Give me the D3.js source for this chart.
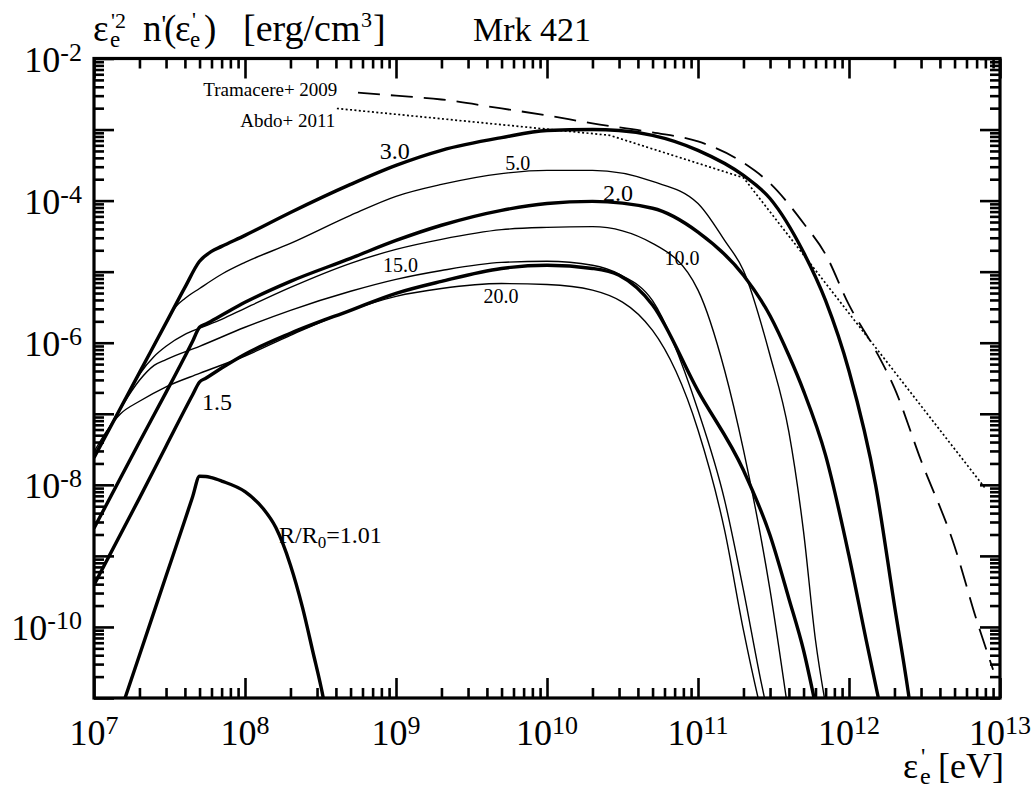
<!DOCTYPE html>
<html>
<head>
<meta charset="utf-8">
<script src="https://cdn.jsdelivr.net/npm/d3@7"></script>
<style>
  html, body { margin: 0; padding: 0; background: #fff; }
  svg { display: block; }
  text { font-family: "Liberation Serif", "Times New Roman", serif; fill: #000; }
</style>
</head>
<body>
<svg id="chart" width="1033" height="788"></svg>
<script>
// Electron energy spectra of Mrk 421 for successive blob radii R/R0,
// with the Tramacere+ 2009 and Abdo+ 2011 fits. Pairs are [energy eV, value erg/cm^3].

const xTickExponents = [7, 8, 9, 10, 11, 12, 13];
const yTickExponents = [-2, -4, -6, -8, -10];

const spec101 = [
  [1.55e7, 8e-12], [2e7, 4.0e-11], [3e7, 5.2e-10], [4e7, 3.2e-9], [4.5e7, 6.8e-9],
  [5e7, 1.32e-8], [5.5e7, 1.31e-8], [6e7, 1.26e-8], [7e7, 1.13e-8], [1e8, 8.0e-9],
  [1.3e8, 4.8e-9], [1.6e8, 2.5e-9], [2e8, 7.4e-10], [2.4e8, 1.9e-10], [2.8e8, 4.7e-11],
  [3.3e8, 1e-11], [3.6e8, 3.5e-12]
];
const spec15 = [
  [1e7, 3.9e-10], [2e7, 6.5e-9], [3e7, 3.5e-8], [4.5e7, 1.85e-7], [5e7, 2.8e-7],
  [5.5e7, 3.16e-7], [7e7, 4.4e-7], [1e8, 6.9e-7], [2e8, 1.36e-6], [5e8, 2.86e-6],
  [1e9, 4.95e-6], [2e9, 7.3e-6], [5e9, 1.11e-5], [1e10, 1.23e-5], [2e10, 1.11e-5],
  [3e10, 8.9e-6], [5e10, 3.4e-6], [1e11, 2.1e-7], [2e11, 1.6e-8], [3e11, 1.95e-9],
  [4e11, 2.5e-10], [5e11, 4.7e-11], [6e11, 8e-12]
];
const spec20 = [
  [1e7, 2.45e-9], [2e7, 4.0e-8], [3e7, 2.0e-7], [4.5e7, 1.05e-6], [5e7, 1.65e-6],
  [5.5e7, 1.83e-6], [7e7, 2.43e-6], [1e8, 3.7e-6], [2e8, 7.3e-6], [5e8, 1.54e-5],
  [1e9, 2.75e-5], [2e9, 4.5e-5], [5e9, 7.3e-5], [1e10, 9.1e-5], [2e10, 9.75e-5],
  [5e10, 7.8e-5], [1e11, 3.6e-5], [2e11, 8.9e-6], [3e11, 2.4e-6], [4e11, 6.6e-7],
  [5e11, 2.1e-7], [7e11, 2.6e-8], [1e12, 1.0e-9], [1.3e12, 6.5e-11], [1.6e12, 8e-12]
];
const spec30 = [
  [1e7, 2.4e-8], [2e7, 3.8e-7], [3e7, 1.9e-6], [4e7, 6.0e-6], [5e7, 1.4e-5],
  [6e7, 1.93e-5], [7e7, 2.27e-5], [1e8, 3.24e-5], [2e8, 6.8e-5], [5e8, 1.69e-4],
  [1e9, 3.13e-4], [2e9, 5.1e-4], [5e9, 7.7e-4], [1e10, 9.7e-4], [2e10, 1.0e-3],
  [3e10, 9.7e-4], [5e10, 8.3e-4], [1e11, 5.1e-4], [2e11, 2.26e-4], [3e11, 1.07e-4],
  [5e11, 1.87e-5], [7e11, 3.9e-6], [1e12, 4e-7], [1.5e12, 1.0e-8], [2e12, 2e-10],
  [2.5e12, 1e-11], [2.7e12, 3e-12]
];
const spec50 = [
  [1e7, 2.4e-8], [2e7, 3.8e-7], [3e7, 1.9e-6], [3.5e7, 3.25e-6], [4e7, 4.2e-6],
  [5e7, 5.8e-6], [7e7, 9.2e-6], [1e8, 1.35e-5], [2e8, 2.5e-5], [5e8, 6.2e-5],
  [1e9, 1.15e-4], [2e9, 1.69e-4], [5e9, 2.4e-4], [1e10, 2.66e-4], [2e10, 2.66e-4],
  [5e10, 1.86e-4], [1e11, 9.1e-5], [1.5e11, 2.75e-5], [2e11, 1.04e-5], [3e11, 6.6e-7],
  [4e11, 5.5e-8], [5e11, 2.2e-9], [6e11, 6.5e-11], [7e11, 8e-12]
];
const spec100 = [
  [1e7, 2.52e-8], [1.5e7, 1.23e-7], [2e7, 3.6e-7], [2.5e7, 6.4e-7], [3e7, 8.9e-7],
  [4e7, 1.31e-6], [5e7, 1.6e-6], [7e7, 2.13e-6], [1e8, 3.05e-6], [2e8, 6.0e-6],
  [5e8, 1.31e-5], [1e9, 2.06e-5], [2e9, 2.85e-5], [5e9, 3.9e-5], [1e10, 4.2e-5],
  [2e10, 4.3e-5], [5e10, 2.5e-5], [1e11, 5.5e-6], [1.5e11, 4.1e-7], [2e11, 3.1e-8],
  [3e11, 3.3e-10], [3.9e11, 8e-12]
];
const spec150 = [
  [1e7, 2.6e-8], [1.5e7, 1.19e-7], [2e7, 2.96e-7], [2.5e7, 4.8e-7], [3e7, 5.8e-7],
  [5e7, 8.9e-7], [1e8, 1.65e-6], [2e8, 2.86e-6], [5e8, 5.3e-6], [1e9, 7.8e-6],
  [2e9, 1.04e-5], [5e9, 1.35e-5], [1e10, 1.4e-5], [2e10, 1.23e-5], [3e10, 9.2e-6],
  [5e10, 3.9e-6], [1e11, 1.12e-7], [1.5e11, 6.1e-9], [2e11, 3.3e-10], [2.6e11, 1.8e-11],
  [2.9e11, 6e-12]
];
const spec200 = [
  [1e7, 2.9e-8], [1.2e7, 5.5e-8], [1.5e7, 1.0e-7], [2e7, 1.5e-7], [3e7, 2.4e-7],
  [5e7, 3.7e-7], [1e8, 6.5e-7], [2e8, 1.27e-6], [5e8, 2.86e-6], [1e9, 4.5e-6],
  [2e9, 5.8e-6], [5e9, 6.8e-6], [1e10, 6.6e-6], [2e10, 5.5e-6], [5e10, 1.49e-6],
  [1e11, 5.9e-8], [1.5e11, 2.3e-9], [2e11, 9e-11], [2.5e11, 1e-11], [2.7e11, 5e-12]
];
const tramacere2009 = [
  [5.6e8, 3.3e-3], [1e9, 3.0e-3], [2e9, 2.65e-3], [5e9, 1.98e-3], [1e10, 1.58e-3],
  [2e10, 1.22e-3], [5e10, 9.1e-4], [1e11, 6.8e-4], [2e11, 3.4e-4], [3e11, 1.75e-4],
  [5e11, 4.8e-5], [7e11, 1.75e-5], [1e12, 3.4e-6], [1.5e12, 7.8e-7], [2e12, 2.3e-7],
  [3e12, 2.2e-8], [5e12, 1.37e-9], [7e12, 1.25e-10], [9e12, 2.5e-11]
];
const abdo2011 = [
  [4.06e8, 1.98e-3], [2.6e10, 8.3e-4], [2.0e11, 2.1e-4], [7.9e12, 9.2e-9]
];

// [name, points, thick]
const spectra = [
  ["1.01", spec101, true], ["1.5", spec15, true], ["2.0", spec20, true], ["3.0", spec30, true],
  ["5.0", spec50, false], ["10.0", spec100, false], ["15.0", spec150, false], ["20.0", spec200, false]
];

// Curve labels: [text, energy, value at baseline-left, thick]
const curveLabels = [
  ["3.0", 7.8e8, 3.8e-4, true], ["5.0", 5.3e9, 2.66e-4, false], ["2.0", 2.35e10, 1.0e-4, true],
  ["10.0", 6.0e10, 1.23e-5, false], ["15.0", 8.2e8, 9.8e-6, false], ["20.0", 3.8e9, 3.6e-6, false],
  ["1.5", 5.2e7, 1.12e-7, true]
];
const ratioLabelPos = [1.68e8, 1.5e-9];
const fitLabels = [["Tramacere+ 2009", 5.3e7, 3.0e-3], ["Abdo+ 2011", 9.3e7, 1.07e-3]];

const svg = d3.select("#chart");
const plotLeft = 94, plotRight = 1000, plotTop = 58.5, plotBottom = 698;

const x = d3.scaleLog().domain([1e7, 1e13]).range([plotLeft, plotRight]);
const y = d3.scaleLog().domain([1e-11, 1e-2]).range([plotBottom, plotTop]);

svg.append("defs").append("clipPath").attr("id", "plotClip")
  .append("rect").attr("x", plotLeft).attr("y", plotTop)
  .attr("width", plotRight - plotLeft).attr("height", plotBottom - plotTop);

// ticks on all four sides, pointing inward
function minorTicks(lo, hi) {
  const out = [];
  for (let e = lo; e < hi; e++) for (let k = 2; k <= 9; k++) out.push(k * Math.pow(10, e));
  return out;
}
const xMajor = d3.range(7, 14).map(e => Math.pow(10, e));
const xMinor = minorTicks(7, 13);
const yMajor = d3.range(-11, -1).map(e => Math.pow(10, e));
const yMinor = minorTicks(-11, -2);

function drawAxis(axisFn, scale, values, len, transform) {
  const g = svg.append("g").attr("transform", transform)
    .call(axisFn(scale).tickValues(values).tickSize(-len).tickFormat(""));
  g.select(".domain").remove();
  g.selectAll(".tick line").attr("stroke", "#000").attr("stroke-width", 2.6);
}
drawAxis(d3.axisBottom, x, xMajor, 20, `translate(0,${plotBottom})`);
drawAxis(d3.axisBottom, x, xMinor, 10, `translate(0,${plotBottom})`);
drawAxis(d3.axisTop, x, xMajor, 20, `translate(0,${plotTop})`);
drawAxis(d3.axisTop, x, xMinor, 10, `translate(0,${plotTop})`);
drawAxis(d3.axisLeft, y, yMajor, 20, `translate(${plotLeft},0)`);
drawAxis(d3.axisLeft, y, yMinor, 10, `translate(${plotLeft},0)`);
drawAxis(d3.axisRight, y, yMajor, 20, `translate(${plotRight},0)`);
drawAxis(d3.axisRight, y, yMinor, 10, `translate(${plotRight},0)`);

svg.append("rect").attr("x", plotLeft).attr("y", plotTop)
  .attr("width", plotRight - plotLeft).attr("height", plotBottom - plotTop)
  .attr("fill", "none").attr("stroke", "#000").attr("stroke-width", 3.2);

// tick labels
xTickExponents.forEach(e => {
  const t = svg.append("text").attr("x", x(Math.pow(10, e))).attr("y", plotBottom + 47)
    .attr("text-anchor", "middle").attr("font-size", 36);
  t.append("tspan").text("10");
  t.append("tspan").attr("font-size", 26).attr("dy", -11).text(e);
});
yTickExponents.forEach(e => {
  const t = svg.append("text").attr("x", plotLeft - 12).attr("y", y(Math.pow(10, e)) + 13)
    .attr("text-anchor", "end").attr("font-size", 36);
  t.append("tspan").text("10");
  t.append("tspan").attr("font-size", 26).attr("dy", -11).text("-" + (-e));
});

// axis titles: stacked primes / superscripts and subscripts placed glyph group by group
function title(parts) {
  const t = svg.append("text");
  parts.forEach(([txt, px, py, size]) => {
    t.append("tspan").attr("x", px).attr("y", py).attr("font-size", size).text(txt);
  });
}
title([
  ["\u03b5", 93, 41, 37], ["'2", 111, 28, 22], ["e", 110, 47, 23],
  ["n", 143, 41, 37], ["'", 161.5, 33, 26], ["(", 164, 41, 37], ["\u03b5", 175, 41, 37],
  ["'", 192, 27, 22], ["e", 190, 47, 23],
  [")", 204, 41, 37], ["[erg/cm", 243, 41, 38], ["3", 361, 27, 22], ["]", 373, 41, 38]
]);
svg.append("text").attr("x", 473).attr("y", 41).attr("font-size", 34).text("Mrk 421");
title([
  ["\u03b5", 903, 778, 36], ["'", 921, 764, 24], ["e", 920, 784, 24], ["[eV]", 938, 778, 36]
]);

// spectra and fits
const line = d3.line().x(d => x(d[0])).y(d => y(d[1])).curve(d3.curveMonotoneX);
const plot = svg.append("g").attr("clip-path", "url(#plotClip)");

spectra.forEach(([name, pts, thick]) => {
  plot.append("path").datum(pts).attr("d", line)
    .attr("fill", "none").attr("stroke", "#000")
    .attr("stroke-width", thick ? 3.4 : 1.4)
    .attr("stroke-linejoin", "round");
});
plot.append("path").datum(tramacere2009).attr("d", line)
  .attr("fill", "none").attr("stroke", "#000").attr("stroke-width", 1.8)
  .attr("stroke-dasharray", "22,11");
plot.append("path").datum(abdo2011).attr("d", d3.line().x(d => x(d[0])).y(d => y(d[1])))
  .attr("fill", "none").attr("stroke", "#000").attr("stroke-width", 1.7)
  .attr("stroke-dasharray", "2,2.4");

// labels
curveLabels.forEach(([txt, e, v, thick]) => {
  svg.append("text").attr("x", x(e)).attr("y", y(v))
    .attr("font-size", thick ? 24 : 20).text(txt);
});
fitLabels.forEach(([txt, e, v]) => {
  svg.append("text").attr("x", x(e)).attr("y", y(v)).attr("font-size", 19).text(txt);
});
const rl = svg.append("text").attr("x", x(ratioLabelPos[0])).attr("y", y(ratioLabelPos[1]))
  .attr("font-size", 24);
rl.append("tspan").text("R/R");
rl.append("tspan").attr("font-size", 17).attr("dy", 5).text("0");
rl.append("tspan").attr("dy", -5).text("=1.01");
</script>
</body>
</html>
